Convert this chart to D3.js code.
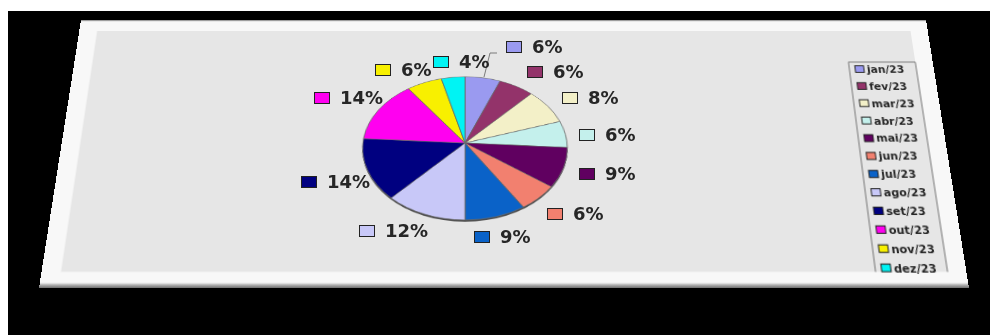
<!DOCTYPE html>
<html>
<head>
<meta charset="utf-8">
<script src="https://cdn.jsdelivr.net/npm/d3@7"></script>
<style>
  html, body { margin: 0; padding: 0; background: #fff; overflow: hidden; }
  #stage { position: absolute; left: 0; top: 0; width: 990px; height: 335px; overflow: hidden; }
  #stage svg { position: absolute; left: 0; top: 0; overflow: visible; transform-origin: 0 0; }
  text { font-family: "DejaVu Sans", sans-serif; font-weight: 700; fill: #262626; }
</style>
</head>
<body>
<div id="stage"></div>
<script>
// Monthly shares, jan/23 through dez/23
const months = ["jan/23", "fev/23", "mar/23", "abr/23", "mai/23", "jun/23",
                "jul/23", "ago/23", "set/23", "out/23", "nov/23", "dez/23"];
const shares = [6, 6, 8, 6, 9, 6, 9, 12, 14, 14, 6, 4];
const sliceColors = ["#9a9af0", "#93336a", "#f3f0c8", "#c4f0ec", "#600060", "#f2806f",
                     "#0a62c8", "#c8c8f8", "#000080", "#ff00f0", "#f8f000", "#00f4f4"];

// Where each value label's swatch sits, relative to the pie hub
const labelOffsets = [[49, -96], [70, -71], [105, -45], [122, -8], [122, 31], [90, 71],
                      [17, 94], [-98, 88], [-156, 39], [-143, -45], [-82, -73], [-24, -81]];

// Homography taking a w x h rectangle onto a quad (TL, TR, BR, BL), as a CSS matrix3d
function quadTransform(w, h, q) {
  const [[x0, y0], [x1, y1], [x2, y2], [x3, y3]] = q;
  const dx1 = x1 - x2, dx2 = x3 - x2, sx = x0 - x1 + x2 - x3;
  const dy1 = y1 - y2, dy2 = y3 - y2, sy = y0 - y1 + y2 - y3;
  const den = dx1 * dy2 - dx2 * dy1;
  const g = (sx * dy2 - dx2 * sy) / den;
  const k = (dx1 * sy - sx * dy1) / den;
  const a = x1 - x0 + g * x1, b = x3 - x0 + k * x3;
  const d = y1 - y0 + g * y1, e = y3 - y0 + k * y3;
  return `matrix3d(${[a / w, d / w, 0, g / w, b / h, e / h, 0, k / h, 0, 0, 1, 0, x0, y0, 0, 1].join(",")})`;
}

const stage = d3.select("#stage");

// Black backdrop
const backdrop = stage.append("svg").attr("width", 990).attr("height", 335);
backdrop.append("rect").attr("x", 8).attr("y", 11).attr("width", 982).attr("height", 324).attr("fill", "#000");

// Tilted sheet: everything in this layer is laid out flat and then projected
const sheetW = 886, sheetH = 268;
const sheet = stage.append("svg")
  .attr("width", sheetW).attr("height", sheetH)
  .style("transform", quadTransform(sheetW, sheetH, [[81, 20], [926, 20], [969, 288], [39, 288]]));

const defs = sheet.append("defs");
const edge = defs.append("linearGradient").attr("id", "edge").attr("x1", 0).attr("y1", 0).attr("x2", 0).attr("y2", 1);
edge.append("stop").attr("offset", "0").attr("stop-color", "#f8f8f8");
edge.append("stop").attr("offset", "0.982").attr("stop-color", "#f8f8f8");
edge.append("stop").attr("offset", "0.988").attr("stop-color", "#bdbdbd");
edge.append("stop").attr("offset", "1").attr("stop-color", "#6e6e6e");

sheet.append("rect").attr("width", sheetW).attr("height", sheetH).attr("fill", "url(#edge)");
sheet.append("rect").attr("width", sheetW).attr("height", 1.2).attr("fill", "#9a9a9a");
sheet.append("rect").attr("x", 18.6).attr("y", 12).attr("width", 849.4).attr("height", 241.3).attr("fill", "#e6e6e6");

// Legend column, open at the bottom where the sheet's inner area ends
const legendX = 799, legendW = 69, legendTop = 45.6, legendBottom = 253.3;
const legend = sheet.append("g");
legend.append("path")
  .attr("d", `M${legendX},${legendBottom}V${legendTop}H${legendX + legendW}V${legendBottom}`)
  .attr("fill", "none").attr("stroke", "#777").attr("stroke-width", 1);
const rowY = d3.scalePoint().domain(months).range([53, 249.6]);
const rows = legend.selectAll("g.row").data(months).join("g")
  .attr("class", "row")
  .attr("transform", d => `translate(${legendX},${rowY(d)})`);
rows.append("rect")
  .attr("x", 6).attr("y", -3.5).attr("width", 9).attr("height", 7)
  .attr("fill", (d, i) => sliceColors[i]).attr("stroke", "#222").attr("stroke-width", 1);
rows.append("text")
  .attr("x", 18).attr("dy", "0.36em").attr("font-size", 11).text(d => d);

// Pie layer: a flat circle projected onto its own quad, so the hub sits above the ellipse centre
const hub = [465, 143];
const radius = 100;
const pieLayer = stage.append("svg")
  .attr("width", radius * 2).attr("height", radius * 2)
  .style("transform", quadTransform(radius * 2, radius * 2,
    [[370, 76.7], [560, 76.7], [575.3, 220], [354.7, 220]]));
const pieG = pieLayer.append("g").attr("transform", `translate(${radius},${radius})`);
const pie = d3.pie().sort(null).value(d => d);
const arc = d3.arc().innerRadius(0).outerRadius(radius);

pieG.append("circle").attr("r", radius).attr("cy", 2).attr("fill", "#4a4a4a");
pieG.selectAll("path.slice").data(pie(shares)).join("path")
  .attr("class", "slice")
  .attr("d", arc)
  .attr("fill", (d, i) => sliceColors[i])
  .attr("stroke", "#6a6a6a").attr("stroke-width", 0.8);

// Value labels with swatches
const overlay = stage.append("svg").attr("width", 990).attr("height", 335);
const firstOffset = labelOffsets[0];
const leader = d3.line()([
  [hub[0] + 19, hub[1] - 66],
  [hub[0] + 25, hub[1] - 90],
  [hub[0] + firstOffset[0] - 17, hub[1] - 90]
]);
overlay.append("path").attr("d", leader).attr("fill", "none").attr("stroke", "#7a7a7a").attr("stroke-width", 1);

const labels = overlay.selectAll("g.label").data(shares).join("g")
  .attr("class", "label")
  .attr("transform", (d, i) => `translate(${hub[0] + labelOffsets[i][0]},${hub[1] + labelOffsets[i][1]})`);
labels.append("rect")
  .attr("x", -7.5).attr("y", -5.5).attr("width", 15).attr("height", 11)
  .attr("fill", (d, i) => sliceColors[i]).attr("stroke", "#222").attr("stroke-width", 1);
labels.append("text")
  .attr("x", 18).attr("dy", "0.36em").attr("font-size", 18)
  .text(d => `${d}%`);
</script>
</body>
</html>
